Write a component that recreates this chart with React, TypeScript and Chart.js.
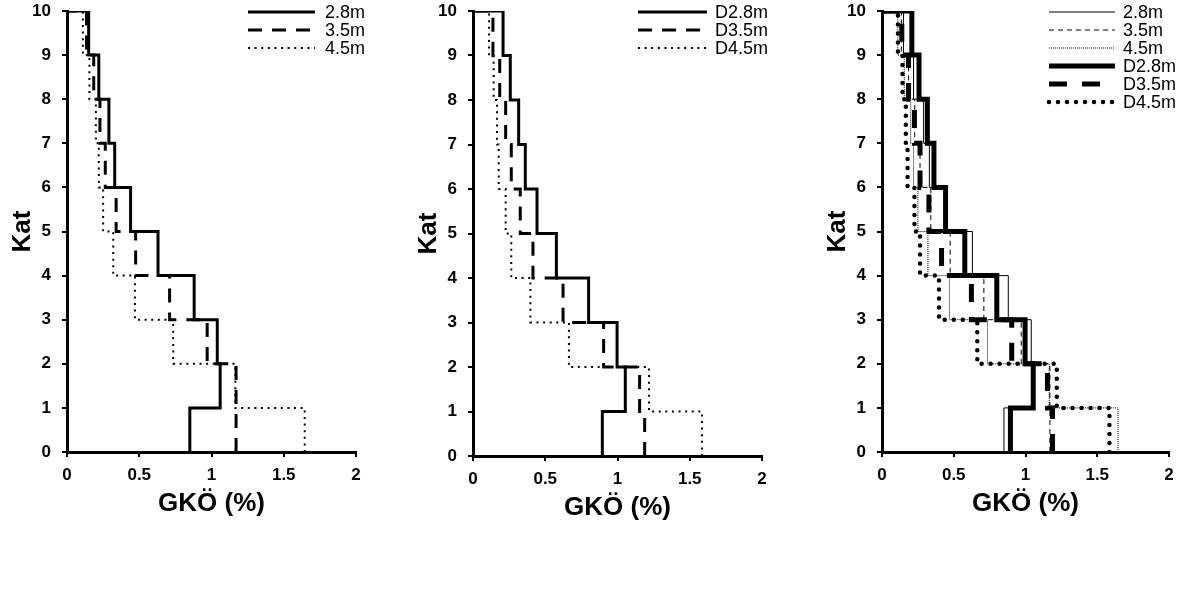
import React, { useEffect, useRef } from "react";
import { Chart, registerables } from "chart.js";

Chart.register(...registerables);

// ---------- data ----------
const FLOOR_TICKS = [0, 1, 2, 3, 4, 5, 6, 7, 8, 9, 10];
const GKO_TICKS = [0, 0.5, 1, 1.5, 2];

// values per storey, index 0 = storey 1 (Kat 0-1) ... index 9 = storey 10 (Kat 9-10)
const S_28 = [0.85, 1.06, 1.04, 0.88, 0.63, 0.44, 0.33, 0.29, 0.22, 0.15];
const S_35 = [1.17, 1.17, 0.97, 0.71, 0.475, 0.34, 0.265, 0.228, 0.185, 0.135];
const S_45 = [1.645, 1.165, 0.735, 0.47, 0.32, 0.25, 0.22, 0.2, 0.155, 0.11];

const D_28 = [0.895, 1.054, 0.997, 0.8, 0.577, 0.443, 0.362, 0.316, 0.258, 0.208];
const D_35 = [1.188, 1.153, 0.904, 0.623, 0.415, 0.327, 0.265, 0.226, 0.185, 0.138];
const D_45 = [1.585, 1.218, 0.664, 0.397, 0.265, 0.226, 0.178, 0.166, 0.143, 0.111];

const LABELS_S = ["2.8m", "3.5m", "4.5m"];
const LABELS_D = ["D2.8m", "D3.5m", "D4.5m"];

const X_TITLE = "GKÖ (%)";
const Y_TITLE = "Kat";

// ---------- helpers ----------
const FONT = "Arial, 'Liberation Sans', sans-serif";

function stepPoints(values: number[]) {
  const pts = [{ x: values[0], y: 0 }];
  values.forEach((v, i) => pts.push({ x: v, y: i + 1 }));
  pts.push({ x: 0, y: values.length });
  return pts;
}

type Style = { width: number; dash: number[]; cap: CanvasLineCap };

const stepLegend = {
  id: "stepLegend",
  afterDraw(chart: any, _args: any, opts: any) {
    const { ctx, chartArea } = chart;
    ctx.save();
    chart.data.datasets.forEach((ds: any, i: number) => {
      const y = opts.top + i * opts.rowH;
      const x0 = chartArea.right + opts.dx;
      ctx.beginPath();
      ctx.lineWidth = ds.borderWidth;
      ctx.setLineDash(ds.borderDash || []);
      ctx.lineCap = ds.borderCapStyle || "butt";
      ctx.strokeStyle = "#000";
      ctx.moveTo(x0, y);
      ctx.lineTo(x0 + opts.len, y);
      ctx.stroke();
      ctx.setLineDash([]);
      ctx.font = `18px ${FONT}`;
      ctx.fillStyle = "#000";
      ctx.textBaseline = "middle";
      ctx.textAlign = "left";
      ctx.fillText(ds.label, x0 + opts.len + opts.gap, y + 1);
    });
    ctx.restore();
  },
};

type PanelProps = {
  left: number;
  width: number;
  plotBottom: number;
  rightPad: number;
  series: { label: string; values: number[]; style: Style }[];
  legendDx: number;
  legendLen: number;
  legendGap: number;
};

function Panel(p: PanelProps) {
  const ref = useRef<HTMLCanvasElement | null>(null);
  useEffect(() => {
    if (!ref.current) return;
    const H = 607;
    const xAxisH = 71;
    const chart = new Chart(ref.current, {
      type: "line",
      data: {
        datasets: p.series.map((s) => ({
          label: s.label,
          data: stepPoints(s.values),
          borderColor: "#000",
          backgroundColor: "#000",
          borderWidth: s.style.width,
          borderDash: s.style.dash,
          borderCapStyle: s.style.cap,
          borderJoinStyle: "miter",
          stepped: "before",
          pointRadius: 0,
          fill: false,
          tension: 0,
        })),
      },
      options: {
        animation: false,
        responsive: false,
        events: [],
        layout: {
          padding: { left: 0, right: p.rightPad, top: 11, bottom: H - p.plotBottom - xAxisH },
        },
        plugins: {
          legend: { display: false },
          tooltip: { enabled: false },
          stepLegend: { top: 12, rowH: 18, dx: p.legendDx, len: p.legendLen, gap: p.legendGap },
        } as any,
        scales: {
          x: {
            type: "linear",
            min: 0,
            max: 2,
            afterBuildTicks: (s: any) => {
              s.ticks = GKO_TICKS.map((v) => ({ value: v }));
            },
            afterFit: (s: any) => {
              s.height = xAxisH;
            },
            ticks: {
              color: "#000",
              font: { family: FONT, size: 17, weight: "bold" },
              padding: 8,
              maxRotation: 0,
              autoSkip: false,
              callback: (v: any) => String(v),
            },
            grid: {
              display: true,
              drawOnChartArea: false,
              drawTicks: true,
              tickLength: 5,
              color: "#000",
              lineWidth: 2,
            },
            border: { display: true, color: "#000", width: 3 },
            title: {
              display: true,
              text: X_TITLE,
              color: "#000",
              font: { family: FONT, size: 26, weight: "bold" },
              padding: { top: 0, bottom: 4 },
            },
          },
          y: {
            type: "linear",
            min: 0,
            max: 10,
            afterBuildTicks: (s: any) => {
              s.ticks = FLOOR_TICKS.map((v) => ({ value: v }));
            },
            afterFit: (s: any) => {
              s.width = 67;
              s.paddingTop = 0;
              s.paddingBottom = 0;
            },
            ticks: {
              color: "#000",
              font: { family: FONT, size: 17, weight: "bold" },
              padding: 11,
              autoSkip: false,
              callback: (v: any) => String(v),
            },
            grid: {
              display: true,
              drawOnChartArea: false,
              drawTicks: true,
              tickLength: 5,
              color: "#000",
              lineWidth: 2,
            },
            border: { display: true, color: "#000", width: 3 },
            title: {
              display: true,
              text: Y_TITLE,
              color: "#000",
              font: { family: FONT, size: 26, weight: "bold" },
              padding: { top: 7, bottom: 0 },
            },
          },
        },
      } as any,
      plugins: [stepLegend as any],
    });
    return () => chart.destroy();
  }, []);
  return (
    <canvas
      ref={ref}
      width={p.width}
      height={607}
      style={{ position: "absolute", left: p.left, top: 0, width: p.width, height: 607 }}
    />
  );
}

const SOLID: Style = { width: 3, dash: [], cap: "butt" };
const DASH: Style = { width: 3, dash: [14, 10], cap: "butt" };
const DOT: Style = { width: 2, dash: [2, 4.6], cap: "butt" };

const THIN_SOLID: Style = { width: 1, dash: [], cap: "butt" };
const THIN_DASH: Style = { width: 1, dash: [5, 4], cap: "butt" };
const THIN_DOT: Style = { width: 1, dash: [1, 1], cap: "butt" };
const THICK_SOLID: Style = { width: 5, dash: [], cap: "butt" };
const THICK_DASH: Style = { width: 5, dash: [18, 15], cap: "butt" };
const THICK_DOT: Style = { width: 4.5, dash: [0, 9], cap: "round" };

export default function App() {
  return (
    <div
      style={{
        position: "absolute",
        left: 0,
        top: 0,
        width: 1199,
        height: 607,
        background: "#fff",
        overflow: "hidden",
      }}
    >
      <Panel
        left={0}
        width={400}
        plotBottom={452}
        rightPad={44}
        legendDx={-108}
        legendLen={67}
        legendGap={10}
        series={[
          { label: LABELS_S[0], values: S_28, style: SOLID },
          { label: LABELS_S[1], values: S_35, style: DASH },
          { label: LABELS_S[2], values: S_45, style: DOT },
        ]}
      />
      <Panel
        left={406}
        width={400}
        plotBottom={456}
        rightPad={44}
        legendDx={-124}
        legendLen={69}
        legendGap={8}
        series={[
          { label: LABELS_D[0], values: D_28, style: SOLID },
          { label: LABELS_D[1], values: D_35, style: DASH },
          { label: LABELS_D[2], values: D_45, style: DOT },
        ]}
      />
      <Panel
        left={815}
        width={384}
        plotBottom={452}
        rightPad={30}
        legendDx={-120}
        legendLen={66}
        legendGap={8}
        series={[
          { label: LABELS_S[0], values: S_28, style: THIN_SOLID },
          { label: LABELS_S[1], values: S_35, style: THIN_DASH },
          { label: LABELS_S[2], values: S_45, style: THIN_DOT },
          { label: LABELS_D[0], values: D_28, style: THICK_SOLID },
          { label: LABELS_D[1], values: D_35, style: THICK_DASH },
          { label: LABELS_D[2], values: D_45, style: THICK_DOT },
        ]}
      />
    </div>
  );
}
